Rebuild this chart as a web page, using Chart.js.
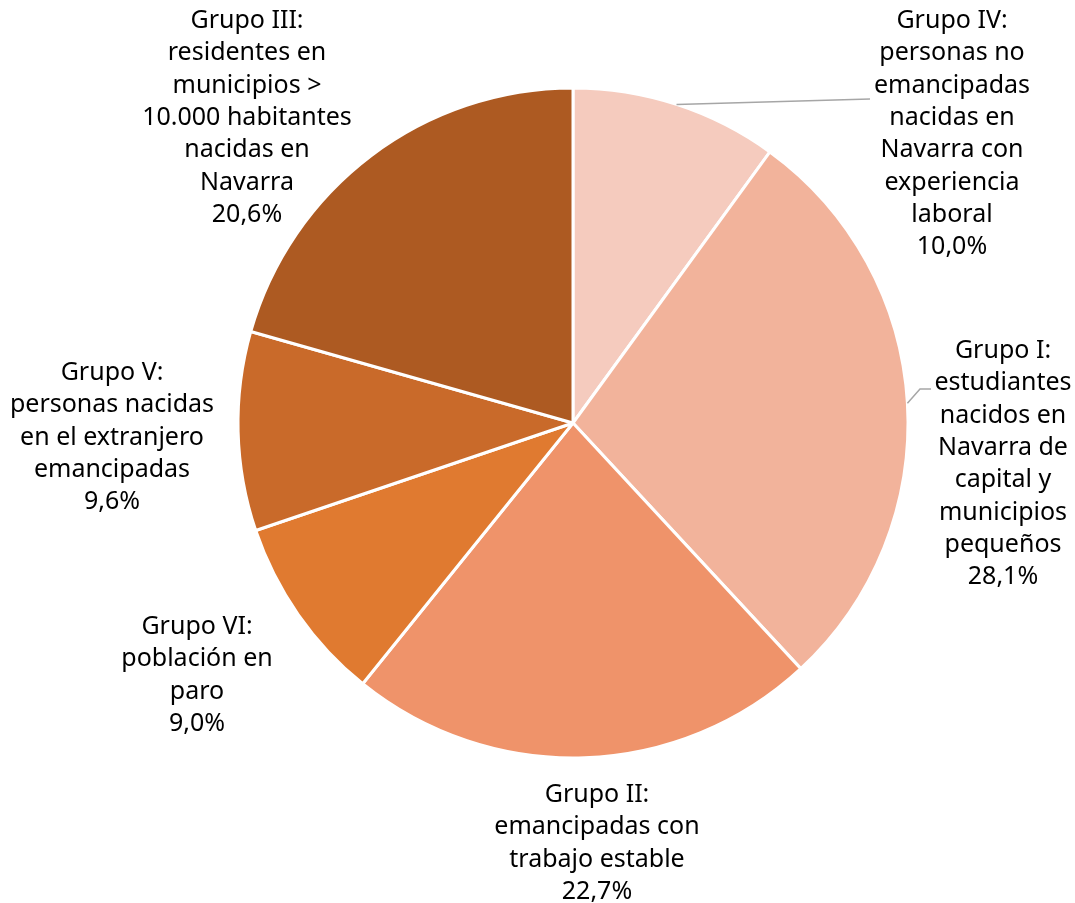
<!DOCTYPE html>
<html>
<head>
<meta charset="utf-8">
<script src="https://cdn.jsdelivr.net/npm/chart.js@4.4.1/dist/chart.umd.min.js"></script>
<style>
  html, body { margin: 0; padding: 0; background: #fff; }
  #wrap { width: 1075px; height: 903px; position: relative; }
</style>
</head>
<body>
<div id="wrap"><canvas id="miGrafica"></canvas></div>
<script>
// Datos del grafico (orden de las porciones en sentido horario desde arriba)
const grupos = [
  ["Grupo IV:", "personas no", "emancipadas", "nacidas en", "Navarra con", "experiencia", "laboral"],
  ["Grupo I:", "estudiantes", "nacidos en", "Navarra de", "capital y", "municipios", "pequeños"],
  ["Grupo II:", "emancipadas con", "trabajo estable"],
  ["Grupo VI:", "población en", "paro"],
  ["Grupo V:", "personas nacidas", "en el extranjero", "emancipadas"],
  ["Grupo III:", "residentes en", "municipios >", "10.000 habitantes", "nacidas en", "Navarra"]
];
const porcentajes = [10.0, 28.1, 22.7, 9.0, 9.6, 20.6];

const colores = ["#F5CBBE", "#F2B39B", "#EF936A", "#E07A30", "#C96A2A", "#AD5A22"];

// posicion de cada etiqueta: centro x y centro de la primera linea
const posEtiquetas = [
  { x: 952, y: 21 },
  { x: 1003, y: 351 },
  { x: 597, y: 795 },
  { x: 197, y: 627 },
  { x: 112, y: 373 },
  { x: 247, y: 21 }
];
// lineas guia: indice de porcion, angulo en el arco (grados desde arriba, null = centro), codo y final
const guias = [
  { i: 0, ang: null, pts: [[870, 99]] },
  { i: 1, ang: 86.6, pts: [[920, 389], [931, 389]] }
];

const etiquetasPlugin = {
  id: "etiquetas",
  afterDraw(chart) {
    const ctx = chart.ctx;
    const meta = chart.getDatasetMeta(0);
    ctx.save();
    // lineas guia
    ctx.strokeStyle = "#A6A6A6";
    ctx.lineWidth = 1.5;
    guias.forEach(g => {
      const arc = meta.data[g.i];
      const p = arc.getProps(["x", "y", "startAngle", "endAngle", "outerRadius"], true);
      let a;
      if (g.ang === null) a = (p.startAngle + p.endAngle) / 2;
      else a = g.ang * Math.PI / 180 - Math.PI / 2;
      ctx.beginPath();
      ctx.moveTo(p.x + Math.cos(a) * p.outerRadius, p.y + Math.sin(a) * p.outerRadius);
      g.pts.forEach(pt => ctx.lineTo(pt[0], pt[1]));
      ctx.stroke();
    });
    // textos
    ctx.fillStyle = "#000";
    ctx.font = "25px 'Noto Sans'";
    ctx.textAlign = "center";
    ctx.textBaseline = "middle";
    grupos.forEach((lineas, i) => {
      const todas = lineas.concat([porcentajes[i].toFixed(1).replace(".", ",") + "%"]);
      todas.forEach((t, k) => {
        ctx.fillText(t, posEtiquetas[i].x, posEtiquetas[i].y + k * 32.3);
      });
    });
    ctx.restore();
  }
};

new Chart("miGrafica", {
  type: "pie",
  data: {
    labels: grupos.map(g => g.join(" ")),
    datasets: [{
      data: porcentajes,
      backgroundColor: colores,
      borderColor: "#fff",
      borderWidth: 3
    }]
  },
  options: {
    responsive: true,
    maintainAspectRatio: false,
    animation: false,
    radius: 335,
    layout: { padding: { top: 88, bottom: 145, left: 238, right: 167 } },
    plugins: {
      legend: { display: false },
      tooltip: { enabled: false }
    }
  },
  plugins: [etiquetasPlugin]
});
</script>
</body>
</html>
